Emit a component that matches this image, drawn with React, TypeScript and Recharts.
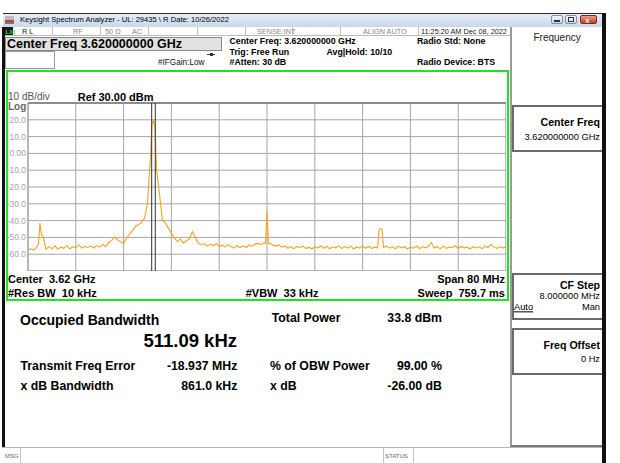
import React from 'react';
import { LineChart, Line, XAxis, YAxis, CartesianGrid, ReferenceLine } from 'recharts';

// Trace: frequency offset from centre (MHz) and level (dBm)
const freqOffsetMHz = [
  -40, -39.5, -39, -38.5, -38.25, -38, -37.75, -37.5, -37, -36.5, -36, -35.5,
  -35, -34.5, -34, -33.5, -33, -32.5, -32, -31.5, -31, -30.5,
  -30, -29.5, -29, -28.5, -28, -27.5, -27, -26.5, -26, -25.5,
  -25, -24.5, -24, -23.5, -23, -22.5, -22, -21.5, -21, -20.5,
  -20, -19.5, -19.25, -19, -18.75, -18.5, -18, -17.5, -17, -16.5,
  -16, -15.5, -15, -14.5, -14, -13.5, -13, -12.5, -12, -11.5,
  -11, -10.5, -10, -9.5, -9, -8.5, -8, -7.5, -7, -6.5,
  -6, -5.5, -5, -4.5, -4, -3.5, -3, -2.5, -2, -1.5,
  -1, -0.5, -0.25, 0, 0.25, 0.5, 1, 1.5, 2, 2.5, 3, 3.5,
  4, 4.5, 5, 5.5, 6, 6.5, 7, 7.5, 8, 8.5,
  9, 9.5, 10, 10.5, 11, 11.5, 12, 12.5, 13, 13.5,
  14, 14.5, 15, 15.5, 16, 16.5, 17, 17.5, 18, 18.5,
  18.75, 19, 19.25, 19.5, 20, 20.5, 21, 21.5, 22, 22.5,
  23, 23.5, 24, 24.5, 25, 25.5, 26, 26.5, 27, 27.5,
  28, 28.5, 29, 29.5, 30, 30.5, 31, 31.5, 32, 32.5,
  33, 33.5, 34, 34.5, 35, 35.5, 36, 36.5, 37, 37.5,
  38, 38.5, 39, 39.5, 40,
];
const levelDbm = [
  -57.5, -56.8, -57.5, -55.5, -54, -41.5, -48.5, -49, -57, -55.5, -56.8, -55,
  -57, -55.8, -56.5, -54.8, -56.9, -55.6, -56.2, -54.5, -56.4, -55.3,
  -56, -55, -56.3, -54.9, -55.8, -54.2, -55.5, -53, -51.8, -49.8,
  -51.5, -52.6, -53.5, -50.5, -48, -46, -43.5, -42.5, -41, -38.5,
  -30, -2, 17.5, 19.5, 16, -9, -24, -40, -41.5, -44.5,
  -47.5, -50.5, -52.5, -51, -53.5, -52, -51, -46.5, -50, -53.5,
  -54.2, -53.8, -55.2, -54, -55, -53.6, -55.4, -54.6, -55.8, -54.2,
  -55.6, -56.4, -54.8, -56.2, -55, -56, -54.5, -55.4, -54, -53.6,
  -54.3, -53.2, -53.6, -34.5, -53.8, -53.5, -54.6, -55.2, -54.5, -55.8, -55, -56.5,
  -55.5, -56.8, -55.4, -56, -55.2, -56.6, -55.8, -56.9, -55.6, -56.3,
  -55, -56.5, -55.3, -56.8, -55.6, -56.2, -54.9, -56.7, -55.5, -56.4,
  -55.2, -56.9, -55.7, -56.3, -55.1, -56.5, -55.4, -56.6, -55.8, -56.2,
  -45.5, -44.8, -45.2, -56, -55.2, -56.4, -55.6, -56.8, -55.3, -56.1,
  -55.5, -56.9, -55.8, -56.4, -55.1, -56.7, -55.6, -56.2, -55.4, -53,
  -56.3, -55.5, -56.8, -55.2, -56.5, -55.7, -56.1, -55, -56.6, -55.4,
  -56.2, -55.8, -56.9, -55.5, -56.3, -55.6, -56.7, -55.2, -56, -54.2,
  -55.8, -56.5, -55.6, -56.2, -55.8,
];
const xTicksMHz = [-40, -32, -24, -16, -8, 0, 8, 16, 24, 32, 40];
const yTicksDbm = [30, 20, 10, 0, -10, -20, -30, -40, -50, -60, -70];
const obwMarkersMHz = [-19.3, -18.7];

const data = freqOffsetMHz.map((f, i) => ({ f, level: levelDbm[i] }));

const FONT = '"Liberation Sans", Arial, Helvetica, sans-serif';

type TProps = {
  x: number; y: number; s: number; b?: boolean; c?: string; r?: boolean;
  children: React.ReactNode; style?: React.CSSProperties;
};
function T({ x, y, s, b, c = '#000', r, children, style }: TProps) {
  const st: React.CSSProperties = {
    position: 'absolute', top: y, fontSize: s, fontWeight: b ? 700 : 400, color: c,
    lineHeight: 1, whiteSpace: 'pre', transform: 'translateY(-50%)', fontFamily: FONT,
    ...style,
  };
  if (r) st.right = 620 - x; else st.left = x;
  return <div style={st}>{children}</div>;
}

function Box({ x, y, w, h, style }: { x: number; y: number; w: number; h: number; style?: React.CSSProperties }) {
  return <div style={{ position: 'absolute', left: x, top: y, width: w, height: h, boxSizing: 'border-box', ...style }} />;
}

const YTick = (props: any) => {
  const { x, y, payload } = props;
  const v = payload.value;
  if (v === 30 || v === -70) return <g />;
  const label = v === 0 ? '0.00' : v.toFixed(1);
  return (
    <text x={x} y={y} dy={3} textAnchor="end" fill="#a3a3a3" fontSize={8.5} fontFamily={FONT}>
      {label}
    </text>
  );
};

export default function App() {
  const rowSeps = [51.7, 100, 148, 196.7, 245, 292.3, 340, 418.3];
  return (
    <div style={{ position: 'absolute', left: 0, top: 0, width: 620, height: 463, background: '#fff', overflow: 'hidden', fontFamily: FONT }}>
      {/* title bar */}
      <Box x={3} y={13} w={603} h={14} style={{ background: 'linear-gradient(#e6eef8, #c8d7ea)', borderTop: '1px solid #2b2b2b' }} />
      <Box x={5} y={16} w={9} h={8} style={{ background: 'linear-gradient(#bbb 0 55%, #d33 55% 80%, #777 80%)' }} />
      <T x={20} y={20} s={7.6}>Keysight Spectrum Analyzer - UL: 29435 \ R Date: 10/26/2022</T>
      <Box x={551} y={15} w={12} h={9} style={{ background: 'linear-gradient(#f4f7fb,#cdd8e6)', border: '1px solid #7e8ea3', borderRadius: 2 }} />
      <Box x={554} y={20} w={6} h={2} style={{ background: '#333' }} />
      <Box x={565} y={15} w={12} h={9} style={{ background: 'linear-gradient(#f4f7fb,#cdd8e6)', border: '1px solid #7e8ea3', borderRadius: 2 }} />
      <Box x={568} y={17} w={6} h={5} style={{ border: '1px solid #333' }} />
      <Box x={580} y={15} w={17} h={9} style={{ background: 'linear-gradient(#e8a08f,#c2412b)', border: '1px solid #7a2a1c', borderRadius: 2 }} />
      <T x={585.5} y={19.5} s={7} b c="#fff">x</T>

      {/* outer dark frame */}
      <Box x={2} y={27} w={3} h={421} style={{ background: '#111' }} />
      <Box x={602} y={13} w={4} h={450} style={{ background: '#111' }} />

      {/* status row */}
      <Box x={5} y={27} w={505} h={9} style={{ background: '#fff', borderBottom: '1px solid #bbb' }} />
      <Box x={5} y={27} w={8} h={8} style={{ background: '#1a1a1a' }} />
      <T x={5.5} y={31.5} s={6} b c="#35d235">LXI</T>
      {rowSeps.map((sx) => (
        <Box key={sx} x={sx} y={27} w={1} h={9} style={{ background: '#c4c4c4' }} />
      ))}
      <T x={22} y={31.5} s={7.3} c="#222">R L</T>
      <T x={73} y={31.5} s={7.3} c="#888">RF</T>
      <T x={105} y={31.5} s={7.3} c="#888">50 Ω</T>
      <T x={132} y={31.5} s={7.3} c="#888">AC</T>
      <T x={257} y={31.5} s={7.3} c="#888">SENSE:INT</T>
      <T x={363} y={31.5} s={7.3} c="#888">ALIGN AUTO</T>
      <T x={421} y={31.5} s={7.3} c="#222">11:25:20 AM Dec 08, 2022</T>

      {/* settings row */}
      <Box x={5} y={37} w={217} h={14} style={{ background: '#e2e2e2', border: '1px solid #8a8a8a' }} />
      <T x={7} y={44.2} s={12.5} b>Center Freq 3.620000000 GHz</T>
      <Box x={5} y={51} w={50} h={18} style={{ border: '1px solid #9a9a9a', background: '#fff' }} />
      <Box x={207} y={53.5} w={8} h={1} style={{ background: '#333' }} />
      <Box x={210} y={52.5} w={3} h={3} style={{ background: '#333' }} />
      <T x={158} y={63.3} s={8.2} c="#111">#IFGain:Low</T>
      <T x={229.5} y={41} s={8.8} b>Center Freq: 3.620000000 GHz</T>
      <T x={229.5} y={51.6} s={8.8} b>Trig: Free Run</T>
      <T x={229.5} y={61.6} s={8.8} b>#Atten: 30 dB</T>
      <T x={326.5} y={51.6} s={8.8} b>Avg|Hold: 10/10</T>
      <T x={417} y={40.6} s={8.8} b>Radio Std: None</T>
      <T x={417} y={61.6} s={8.8} b>Radio Device: BTS</T>

      {/* green graph frame */}
      <Box x={6} y={70} w={503} h={231} style={{ border: '2px solid #22e022' }} />
      <T x={8} y={96.6} s={10} c="#555">10 dB/div</T>
      <T x={8} y={106.6} s={10} b c="#666">Log</T>
      <T x={77.7} y={96.6} s={11} b>Ref 30.00 dBm</T>

      <div style={{ position: 'absolute', left: 6, top: 95 }}>
        <LineChart width={500} height={176} data={data} margin={{ top: 8, right: 0, bottom: 0, left: 0 }}>
          <CartesianGrid stroke="#a6a6a6" strokeWidth={1} />
          <XAxis dataKey="f" type="number" domain={[-40, 40]} ticks={xTicksMHz} hide allowDataOverflow />
          <YAxis type="number" domain={[-70, 30]} ticks={yTicksDbm} interval={0} width={22}
            axisLine={false} tickLine={false} tickSize={2} tickMargin={0} tick={<YTick />} allowDataOverflow />
          <Line dataKey="level" type="linear" stroke="#f6a31c" strokeWidth={1.1} dot={false} isAnimationActive={false} />
          <ReferenceLine y={30} stroke="#8c8c8c" strokeWidth={2} />
          <ReferenceLine y={-70} stroke="#9a9a9a" />
          <ReferenceLine x={-40} stroke="#9a9a9a" />
          <ReferenceLine x={40} stroke="#9a9a9a" />
          {obwMarkersMHz.map((m) => (
            <ReferenceLine key={m} x={m} stroke="#333" strokeWidth={1} />
          ))}
        </LineChart>
      </div>

      <T x={8} y={279} s={11} b>Center  3.62 GHz</T>
      <T x={8} y={293} s={11} b>#Res BW  10 kHz</T>
      <T x={245.7} y={293} s={11} b>#VBW  33 kHz</T>
      <T x={505} y={279} s={11} b r>Span 80 MHz</T>
      <T x={505} y={293} s={11} b r>Sweep  759.7 ms</T>

      {/* results panel */}
      <T x={20} y={319.5} s={14} b>Occupied Bandwidth</T>
      <T x={237} y={341} s={18.5} b r>511.09 kHz</T>
      <T x={271.7} y={317.5} s={12.3} b>Total Power</T>
      <T x={442} y={317.5} s={12.3} b r>33.8 dBm</T>
      <T x={20.5} y={365.7} s={12.3} b>Transmit Freq Error</T>
      <T x={237.3} y={365.7} s={12.3} b r>-18.937 MHz</T>
      <T x={270} y={365.7} s={12.3} b>% of OBW Power</T>
      <T x={442} y={365.7} s={12.3} b r>99.00 %</T>
      <T x={20.5} y={386} s={12.3} b>x dB Bandwidth</T>
      <T x={237.3} y={386} s={12.3} b r>861.0 kHz</T>
      <T x={270} y={386} s={12.3} b>x dB</T>
      <T x={442} y={386} s={12.3} b r>-26.00 dB</T>

      {/* right softkey panel */}
      <Box x={510} y={27} w={92} h={420} style={{ borderLeft: '2px solid #9a9a9a', borderBottom: '2px solid #777' }} />
      <T x={533.5} y={37.5} s={10} c="#222">Frequency</T>
      <Box x={512} y={105} w={90} h={47} style={{ border: '2px solid #6a6a6a', borderRight: 'none' }} />
      <T x={600} y={121.7} s={10.6} b r>Center Freq</T>
      <T x={600} y={138.3} s={9.3} r>3.620000000 GHz</T>
      <Box x={512} y={273} w={90} h={47} style={{ border: '2px solid #6a6a6a', borderRight: 'none' }} />
      <T x={600} y={285} s={10.6} b r>CF Step</T>
      <T x={600} y={296.7} s={9.3} r>8.000000 MHz</T>
      <T x={514} y={307.6} s={9.3} style={{ textDecoration: 'underline' }}>Auto</T>
      <T x={600} y={307.6} s={9.3} r>Man</T>
      <Box x={512} y={328} w={90} h={47} style={{ border: '2px solid #6a6a6a', borderRight: 'none' }} />
      <T x={600} y={345} s={10.6} b r>Freq Offset</T>
      <T x={600} y={360} s={9.3} r>0 Hz</T>

      {/* bottom status bar */}
      <Box x={2} y={447} w={600} h={16} style={{ borderTop: '1px solid #b5b5b5', background: '#fff' }} />
      <Box x={20} y={448} w={1} h={15} style={{ background: '#c4c4c4' }} />
      <Box x={383} y={448} w={1} h={15} style={{ background: '#c4c4c4' }} />
      <Box x={413} y={448} w={1} h={15} style={{ background: '#c4c4c4' }} />
      <T x={5} y={455.5} s={6} c="#666">MSG</T>
      <T x={385} y={455.5} s={6} c="#666">STATUS</T>
    </div>
  );
}
